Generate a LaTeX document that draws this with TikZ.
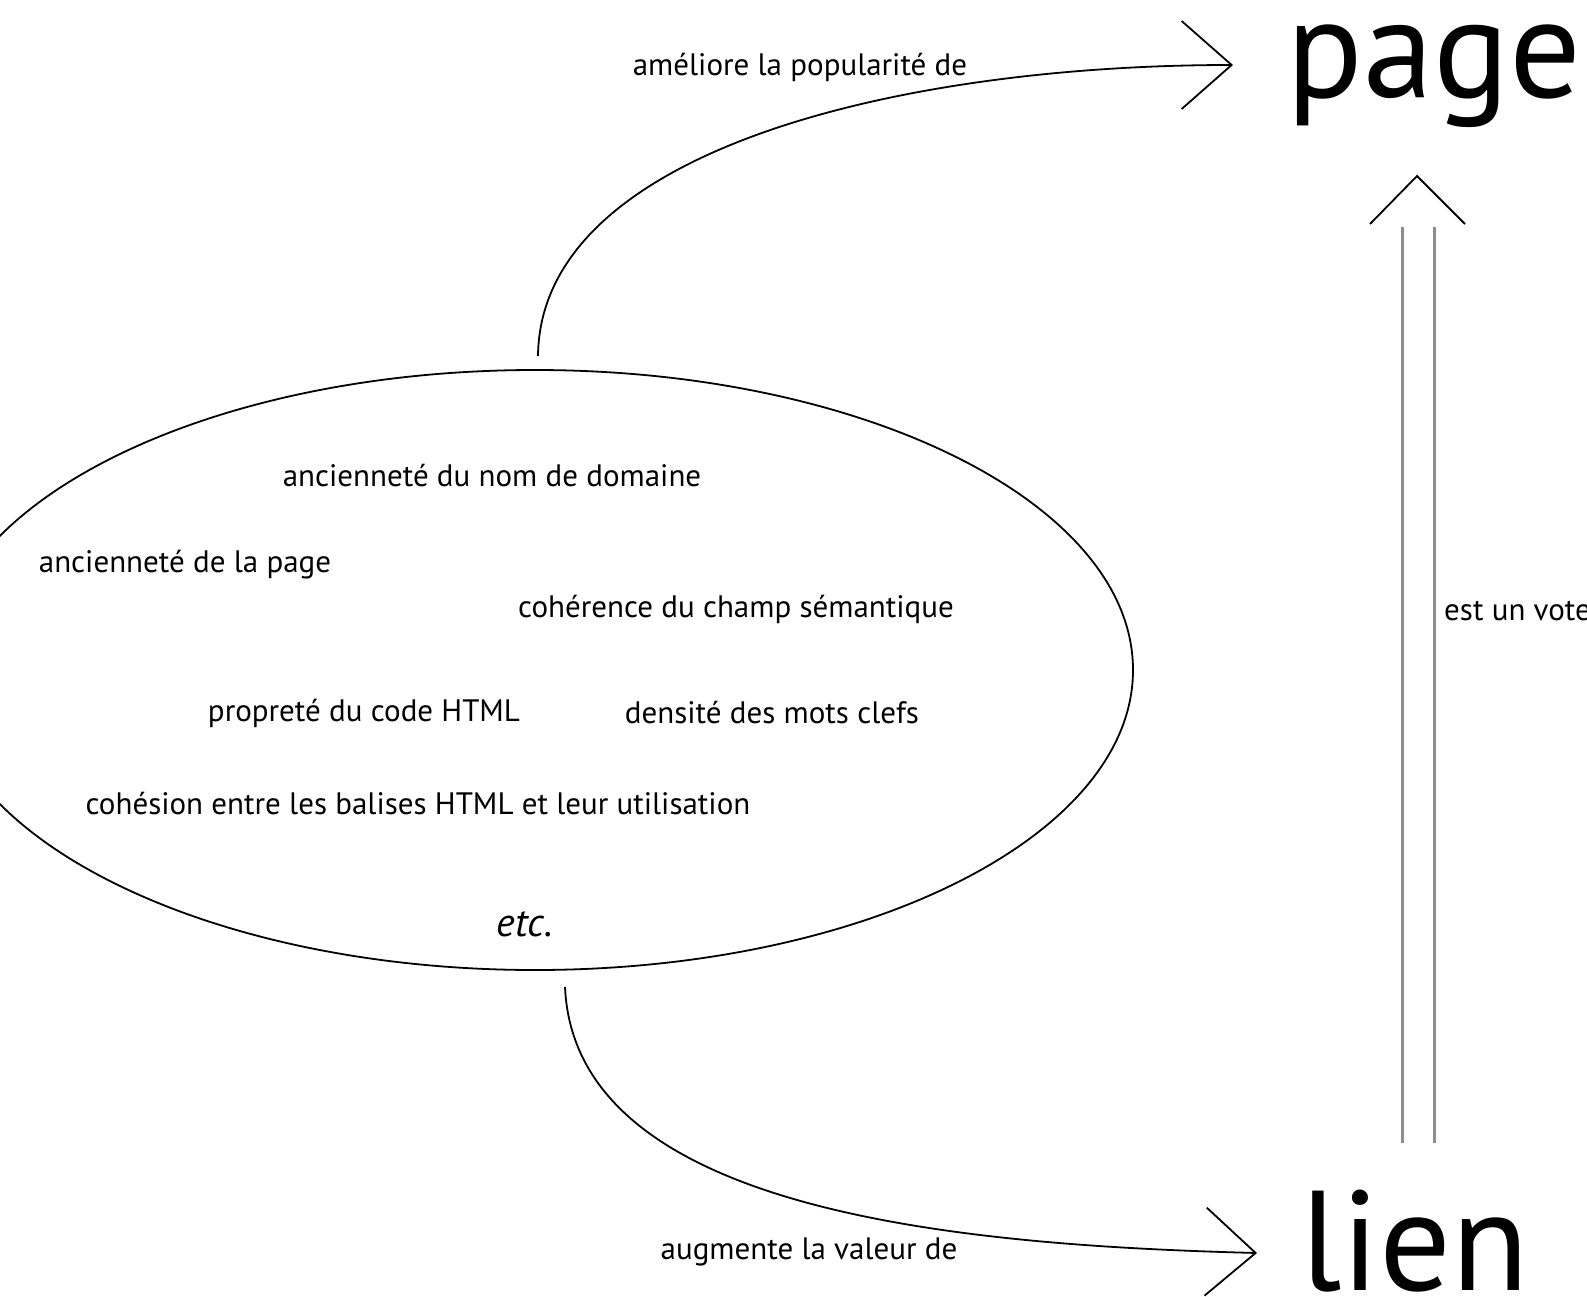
\documentclass[tikz,border=0pt]{standalone}
\usepackage{fontspec}
\setmainfont{PT Sans}
\usetikzlibrary{arrows.meta,shapes.geometric}
\begin{document}
\begin{tikzpicture}[x=1pt,y=-1pt,
  lbl/.style={font=\fontsize{31}{34}\selectfont, anchor=base, inner sep=0pt},
  big/.style={font=\fontsize{142}{150}\selectfont, anchor=base west, inner sep=0pt},
  conn/.style={line width=1.8pt, -{Straight Barb[length=50pt,width=88pt,line width=1.8pt]}},
  vline/.style={line width=3pt, draw=black!45}]
\useasboundingbox (0,0) rectangle (1587,1296);
\node[draw, ellipse, line width=1.8pt, minimum width=1196pt, minimum height=600pt, inner sep=0pt] (crit) at (535,670) {};
\node[big] (page) at (1286,97) {page};
\node[big] (lien) at (1300,1290) {lien};
\node[lbl] (l1) at (800,75) {améliore la popularité de};
\node[lbl] (l2) at (809,1259) {augmente la valeur de};
\node[lbl, anchor=base west] (l3) at (1444,620) {est un vote};
\node[lbl] (c1) at (492,486) {ancienneté du nom de domaine};
\node[lbl] (c2) at (185,572) {ancienneté de la page};
\node[lbl] (c3) at (736,617) {cohérence du champ sémantique};
\node[lbl] (c4) at (364,721) {propreté du code HTML};
\node[lbl] (c5) at (772,723) {densité des mots clefs};
\node[lbl] (c6) at (418,814) {cohésion entre les balises HTML et leur utilisation};
\node[lbl, font=\fontsize{40}{44}\selectfont\itshape] (c7) at (525,936) {etc.};
\coordinate (s1) at (538,356);
\coordinate (e1) at (1233,65);
\coordinate (s2) at (565,987);
\coordinate (e2) at (1257,1253);
\draw[conn] (s1) .. controls (540,150) and (900,65) .. (e1);
\draw[conn] (s2) .. controls (575,1210) and (950,1245) .. (e2);
\coordinate (vb) at (1418,1143);
\coordinate (vt) at (1418,227);
\draw[vline] ([xshift=-16pt]vb) -- ([xshift=-16pt]vt);
\draw[vline] ([xshift=16pt]vb) -- ([xshift=16pt]vt);
\draw[line width=1.8pt] (1370,224) -- (1417,176) -- (1465,224);
\end{tikzpicture}
\end{document}
